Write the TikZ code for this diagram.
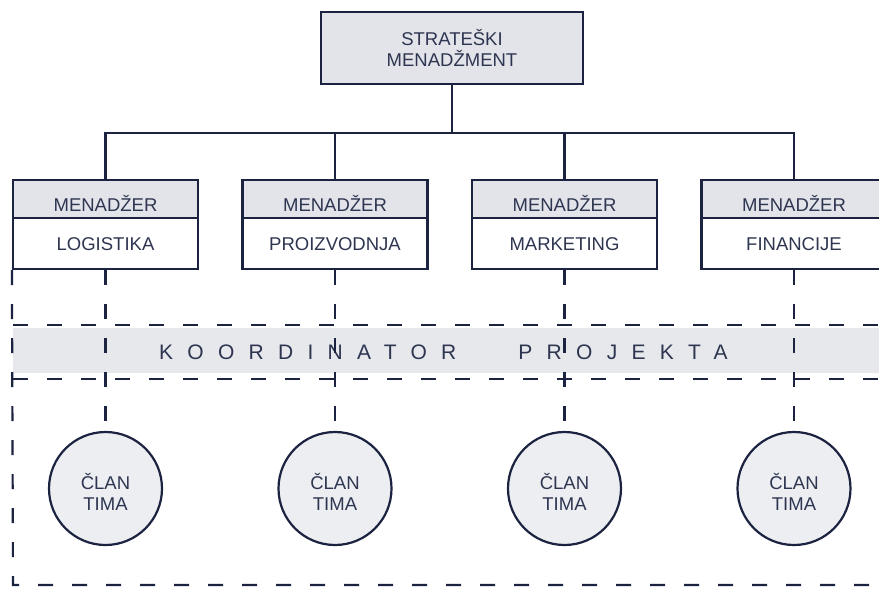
\documentclass[tikz,border=0pt]{standalone}
\usepackage{fontspec}
\setmainfont{Liberation Sans}
\usetikzlibrary{calc}
\definecolor{ink}{HTML}{1C2340}
\definecolor{txt}{HTML}{2E3550}
\definecolor{hdr}{HTML}{E2E4E9}
\definecolor{band}{HTML}{E6E8EC}
\definecolor{disk}{HTML}{ECEEF2}
\begin{document}
\begin{tikzpicture}[x=1pt,y=-1pt,
  every node/.style={text=txt,font=\fontsize{18.5}{21.5}\selectfont},
  conn/.style={draw=ink,line width=2.2pt},
  dashline/.style={draw=ink,line width=2.2pt,dash pattern=on 15pt off 19pt},
  topbox/.style={draw=ink,line width=2.2pt,fill=hdr,minimum width=262pt,minimum height=72pt,inner sep=0pt,align=center},
  mgrbox/.style={draw=ink,line width=2.2pt,fill=white,minimum width=185pt,minimum height=89pt,inner sep=0pt,
    path picture={\fill[hdr] (path picture bounding box.north west) rectangle ([yshift=-38pt]path picture bounding box.north east);
      \draw[ink,line width=1.2pt] ([yshift=-38pt]path picture bounding box.north west) -- ([yshift=-38pt]path picture bounding box.north east);}},
  member/.style={circle,draw=ink,line width=2.2pt,fill=disk,minimum size=113pt,inner sep=0pt},
  lbl/.style={inner sep=0pt,align=center}
]
\clip (0,0) rectangle (879,589);
\fill[white] (0,0) rectangle (879,589);
% band
\fill[band] (13,328) rectangle (879,373);
\node[lbl,anchor=base west,font=\fontsize{21}{24}\selectfont] (koord) at (159,359.5) {\addfontfeature{LetterSpace=68}KOORDINATOR\hspace{62pt}PROJEKTA};
% top box
\node[topbox] (top) at (452,48) {STRATEŠKI\\MENADŽMENT};
% managers
\foreach \i/\x/\t in {1/105.5/LOGISTIKA,2/335/PROIZVODNJA,3/564.5/MARKETING,4/794/FINANCIJE}{
  \node[mgrbox] (m\i) at (\x,224.5) {};
  \node[lbl] (m\i h) at (\x,203) {MENADŽER};
  \node[lbl] (m\i b) at (\x,244.5) {\t};
  \node[member] (c\i) at (\x,488.5) {};
  \node[lbl] (c\i t) at (\x,492) {ČLAN\\TIMA};
}
\coordinate (bar) at (0,133);
\draw[conn] (top.south) -- (top.south |- bar);
\draw[conn] (m1.north) -- (m1.north |- bar) -- (m4.north |- bar) -- (m4.north);
\draw[conn] (m2.north) -- (m2.north |- bar);
\draw[conn] (m3.north) -- (m3.north |- bar);
% dashed structure
\coordinate (hl1) at (13,325);
\coordinate (hr1) at (879,325);
\coordinate (hl2) at (13,379);
\coordinate (hr2) at (879,379);
\coordinate (bl) at (13,585);
\coordinate (br) at (879,585);
\draw[dashline] (hl1) -- (hr1);
\draw[dashline] (hl2) -- (hr2);
\draw[dashline] (m1.south west) -- (bl) -- (br);
\foreach \i in {1,2,3,4}{
  \draw[dashline] (m\i.south) -- (c\i.north);
}
\end{tikzpicture}
\end{document}
